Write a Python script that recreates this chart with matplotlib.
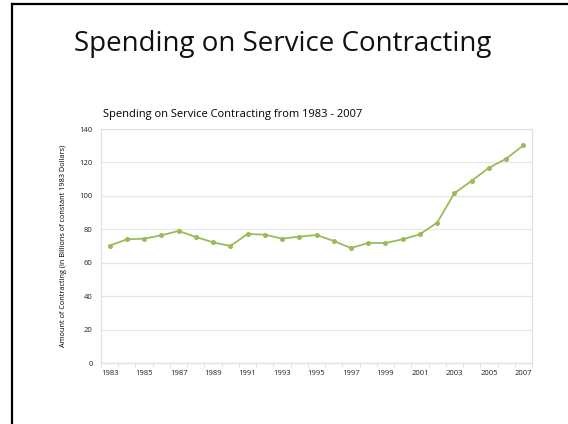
import matplotlib
matplotlib.use("Agg")
import matplotlib.pyplot as plt
from matplotlib.lines import Line2D
import numpy as np

years = list(range(1983, 2008))
spending = [70.2, 74.0, 74.4, 76.4, 79.0, 75.4, 72.2, 70.0, 77.2, 76.8,
            74.4, 75.6, 76.6, 73.0, 68.8, 71.8, 71.8, 74.0, 77.0, 84.0,
            101.6, 109.0, 116.8, 122.2, 130.2]
xtick_labels = [str(y) for y in range(1983, 2008, 2)]
yticks = [0, 20, 40, 60, 80, 100, 120, 140]

slide_title = "Spending on Service Contracting"
chart_title = "Spending on Service Contracting from 1983 - 2007"
ylabel = "Amount of Contracting (in Billions of constant 1983 Dollars)"

plt.rcParams['font.family'] = ['Open Sans', 'DejaVu Sans']

fig = plt.figure(figsize=(5.68, 4.24), dpi=100)
fig.patch.set_facecolor('white')

# slide frame lines
fig.add_artist(Line2D([12/568, 12/568], [0, 1 - 4/424], transform=fig.transFigure,
                      color='black', lw=1.6))
fig.add_artist(Line2D([12/568, 1], [1 - 4/424, 1 - 4/424], transform=fig.transFigure,
                      color='black', lw=1.6))

fig.text(283/568, 1 - 44/424, slide_title, ha='center', va='center', fontsize=20,
         color='#111111')

ax = fig.add_axes([101/568, 1 - 363/424, 431/568, 234/424])
ax.plot(years, spending, color='#9BBB59', lw=1.3, marker='o', markersize=2.6)
ax.set_xlim(1982.5, 2007.5)
ax.set_ylim(0, 140)
ax.set_yticks(yticks)
ax.set_yticklabels([str(v) for v in yticks], fontsize=5.5, color='#222222')
ax.set_xticks(list(range(1983, 2008, 2)))
ax.set_xticklabels(xtick_labels, fontsize=5.5, color='#222222')
ax.set_xticks(np.arange(1982.5, 2008, 1), minor=True)
ax.tick_params(axis='x', which='major', length=0, pad=5)
ax.tick_params(axis='x', which='minor', length=3, color='#d9d9d9')
ax.tick_params(axis='y', length=0, pad=6)
ax.grid(axis='y', color='#e6e6e6', lw=0.9)
ax.set_axisbelow(True)
for s in ax.spines.values():
    s.set_color('#e0e0e0')
    s.set_linewidth(0.9)
ax.set_ylabel(ylabel, fontsize=5.3, labelpad=9)
ax.set_title(chart_title, fontsize=8, loc='left', x=2/431, pad=9)

fig.savefig('out.png', dpi=100)
